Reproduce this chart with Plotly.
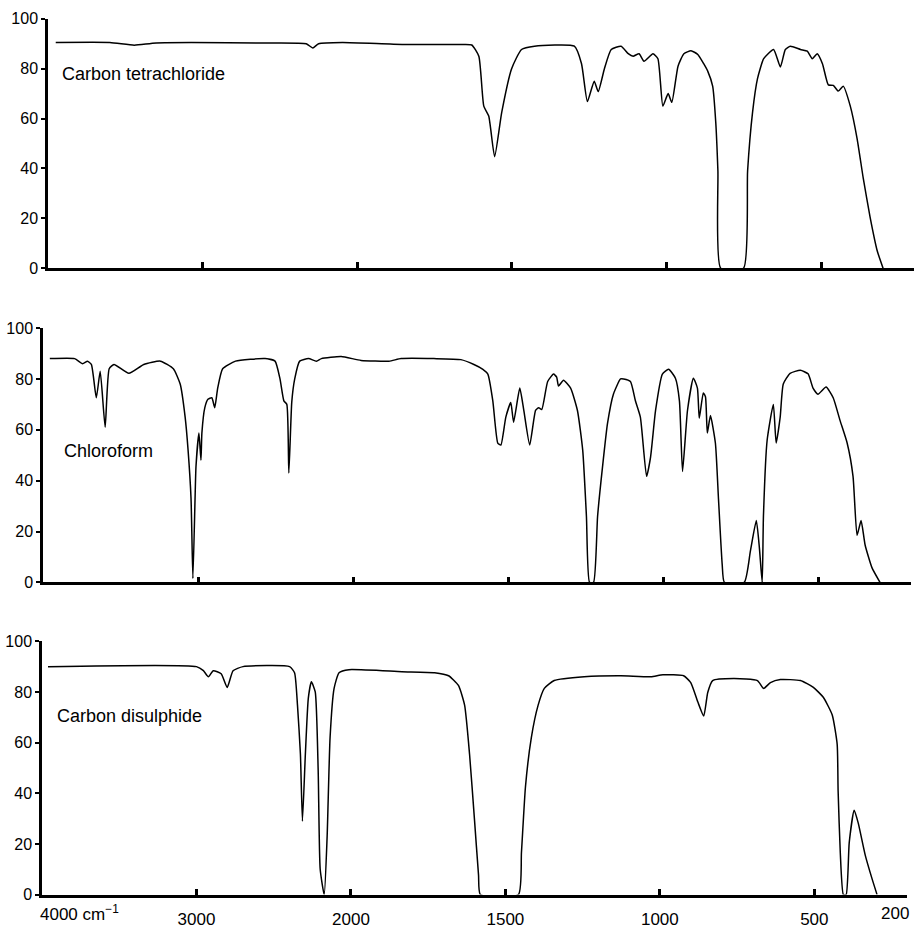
import numpy as np
import plotly.graph_objects as go

# ---------------- data (wavenumber in cm-1, % transmittance) ----------------
ccl4_wn = [3950, 3600, 3442, 3300, 2600, 2330, 2288, 2250, 2096, 1855,
           1662, 1630, 1607, 1591, 1575, 1556, 1533, 1501, 1469, 1427,
           1298, 1275, 1256, 1234, 1221, 1201, 1179, 1147, 1124, 1108,
           1089, 1073, 1044, 1028, 1012, 995, 983, 963, 944, 921,
           899, 880, 867, 851, 841, 834, 825, 751, 738, 722,
           706, 686, 654, 632, 616, 600, 567, 545, 529, 513,
           496, 477, 461, 445, 429, 406, 384, 364, 342, 319, 300]
ccl4_t = [90.5, 90.5, 89.4, 90.3, 90.3, 90, 88.3, 90, 90.5, 89.7,
          89.7, 89.5, 85, 65, 61, 44.7, 62.5, 80, 87.7, 89,
          89, 82, 66.8, 75, 70.8, 80, 87.7, 89, 86, 85,
          86, 83, 86, 84, 65, 70, 66.5, 81, 86, 87.2,
          85.7, 82, 79, 73, 58.5, 39, 0, 0, 39, 62.5,
          76, 84, 87.7, 80.7, 87.7, 89, 87.7, 87, 84, 86,
          82, 73.5, 73.3, 71, 73, 65, 52, 36, 20.5, 7, 0]

chcl3_wn = [3956, 3796, 3745, 3713, 3688, 3656, 3631, 3599, 3573, 3542,
            3446, 3350, 3242, 3159, 3115, 3083, 3064, 3045, 3033, 3019,
            3013, 2994, 2981, 2975, 2956, 2936, 2911, 2892, 2873, 2841,
            2758, 2567, 2503, 2471, 2446, 2427, 2414, 2395, 2376, 2344,
            2287, 2236, 2204, 2076, 1974, 1884, 1845, 1739, 1652, 1610,
            1581, 1565, 1549, 1533, 1523, 1507, 1491, 1482, 1462, 1449,
            1430, 1411, 1401, 1391, 1372, 1353, 1343, 1337, 1321, 1298,
            1276, 1259, 1247, 1237, 1224, 1211, 1195, 1179, 1160, 1137,
            1127, 1105, 1089, 1073, 1053, 1040, 1024, 1002, 982, 960,
            947, 937, 921, 902, 889, 883, 870, 863, 857, 847,
            831, 821, 809, 802, 738, 718, 699, 689, 680, 676,
            664, 644, 635, 622, 612, 590, 557, 532, 516, 500,
            474, 451, 429, 406, 387, 374, 361, 348, 326, 300]
chcl3_t = [88, 88, 86, 87, 85.7, 72.6, 83, 61, 84, 85.7,
           82.2, 85.7, 87, 84, 78, 65, 52, 33, 1.5, 33,
           45.5, 58.7, 48, 58.7, 68.7, 72, 72.6, 68.7, 76.4, 84,
           87, 88, 87, 80, 71.4, 70, 43, 71, 80, 87,
           88, 87, 88, 88.8, 87.3, 87, 88, 88, 87.6, 85.7,
           83.8, 81.9, 71.4, 54.8, 54, 65, 70.7, 63, 76.4, 67.6,
           54, 67.6, 68.7, 68, 79, 81.9, 80.7, 77.2, 79.5, 76.4,
           67.6, 52, 26, 0, 0, 26, 45.5, 62.5, 74, 80,
           80, 79, 71.4, 65, 41.7, 49.4, 67.6, 81.9, 83.8, 80.3,
           71.4, 43.6, 67.6, 80.3, 76.4, 64.5, 74.5, 73, 58.7, 65.6,
           54.8, 32.8, 7, 0, 0, 12.4, 24.3, 13.5, 0, 26,
           56, 70, 54.8, 65, 78, 82.2, 83.4, 82, 76.4, 74,
           76.8, 72.6, 63.7, 54.8, 41.7, 18.5, 24.3, 14.7, 5.8, 0]

cs2_wn = [3961, 3000, 2955, 2923, 2891, 2840, 2801, 2763, 2699, 2397,
          2365, 2346, 2327, 2314, 2295, 2276, 2256, 2231, 2212, 2199,
          2173, 2154, 2135, 2109, 2077, 2013, 1835, 1729, 1684, 1652,
          1632, 1616, 1600, 1587, 1581, 1458, 1448, 1435, 1416, 1394,
          1374, 1342, 1245, 1126, 1029, 990, 923, 900, 877, 858,
          845, 829, 761, 684, 664, 642, 610, 545, 503, 471,
          442, 426, 423, 416, 406, 397, 387, 371, 358, 335, 313, 297]
cs2_t = [90, 90, 88.4, 86, 88.4, 87.2, 81.8, 88.4, 90, 90,
         87.6, 74.8, 55.4, 29, 55.4, 77.5, 84, 80, 49, 10,
         0, 23, 62, 81.4, 87.6, 88.8, 88, 87.6, 86.4, 82.6,
         74.8, 55.4, 29.5, 7.8, 0, 0, 16.7, 42.6, 62, 74.8,
         81.4, 84.5, 86, 86.4, 86, 86.8, 86.4, 83.7, 76, 70.5,
         79.8, 84.5, 85.3, 84.5, 81.4, 83.7, 84.9, 84.5, 81.8, 77.9,
         70.9, 59.3, 41, 16.7, 0, 0, 20.5, 33.3, 28.3, 15.5, 6.2, 0]

panel_names = ["Carbon tetrachloride", "Chloroform", "Carbon disulphide"]
x_tick_wn = [3000, 2000, 1500, 1000, 500]
x_tick_text = ["3000", "2000", "1500", "1000", "500"]
y_ticks = [0, 20, 40, 60, 80, 100]

# ---------------- wavenumber scale (grating IR: half scale above 2000) ----------------
WN_MAX, WN_BREAK, WN_MIN = 4000, 2000, 200


def wn_scale(w):
    w = np.asarray(w, dtype=float)
    return np.where(w >= WN_BREAK, (WN_MAX - w) / 2.0,
                    (WN_MAX - WN_BREAK) / 2.0 + (WN_BREAK - w))


X_RANGE = [0, float(wn_scale(WN_MIN))]

W, H = 917, 937
FONT = "Liberation Sans, Arial, Helvetica, sans-serif"


def fx(px):
    return px / W


def fy(py):
    return 1 - py / H


# panel geometry in pixels: (x_left, x_right, y_bottom, y_top)
panels = [(48, 914, 265, 11), (43, 911, 585, 326), (42, 907, 903, 645)]
label_pos = [(0.014, 78), (0.022, 51.5), (0.015, 70.5)]

series = [(ccl4_wn, ccl4_t), (chcl3_wn, chcl3_t), (cs2_wn, cs2_t)]

fig = go.Figure()
layout = dict(width=W, height=H, margin=dict(l=0, r=0, t=0, b=0),
              paper_bgcolor="white", plot_bgcolor="white", showlegend=False,
              font=dict(family=FONT, color="black"))
annotations = []

for i, ((wn, t), (xl, xr, yb, yt), name, (lx, ly)) in enumerate(
        zip(series, panels, panel_names, label_pos)):
    k = "" if i == 0 else str(i + 1)
    fig.add_trace(go.Scatter(x=wn_scale(wn), y=t, mode="lines",
                             line=dict(color="black", width=1.5, shape="spline", smoothing=0.5),
                             xaxis="x" + k, yaxis="y" + k, hoverinfo="skip"))
    bottom = (i == 2)
    layout["xaxis" + k] = dict(
        domain=[fx(xl), fx(xr)], anchor="y" + k, range=X_RANGE,
        showgrid=False, zeroline=False, showline=True, linecolor="black", linewidth=2.5,
        ticks="inside", ticklen=6, tickwidth=2.5, tickcolor="black",
        tickvals=list(wn_scale(x_tick_wn)), ticktext=x_tick_text,
        minor=dict(tickvals=[float(wn_scale(WN_MIN))], ticks="inside", ticklen=6,
                   tickwidth=2.5, tickcolor="black", showgrid=False),
        showticklabels=bottom, tickfont=dict(size=17, family=FONT, color="black"),
        ticklabelstandoff=7)
    layout["yaxis" + k] = dict(
        domain=[fy(yb), fy(yt)], anchor="x" + k, range=[0, 100],
        showgrid=False, zeroline=False, showline=True, linecolor="black", linewidth=2.5,
        ticks="outside", ticklen=4, tickwidth=2, tickcolor="black",
        tickvals=y_ticks, tickfont=dict(size=16, family=FONT, color="black"))
    annotations.append(dict(text=name, xref="x" + k + " domain", yref="y" + k,
                            x=lx, y=ly, xanchor="left", yanchor="middle",
                            showarrow=False, font=dict(size=18, family=FONT, color="black")))

# end labels of the bottom wavenumber axis
annotations.append(dict(text="4000 cm<sup>−1</sup>", xref="paper", yref="paper",
                        x=fx(38), y=fy(922), xanchor="left", yanchor="middle",
                        showarrow=False, font=dict(size=17, family=FONT, color="black")))
annotations.append(dict(text="200", xref="paper", yref="paper",
                        x=fx(911), y=fy(922), xanchor="right", yanchor="middle",
                        showarrow=False, font=dict(size=17, family=FONT, color="black")))

layout["annotations"] = annotations
fig.update_layout(**layout)
# remove the default page margin so the figure fills the window exactly
fig.write_html("out.html", config={"displayModeBar": False},
               post_script="document.body.style.margin='0';document.body.style.overflow='hidden';")
